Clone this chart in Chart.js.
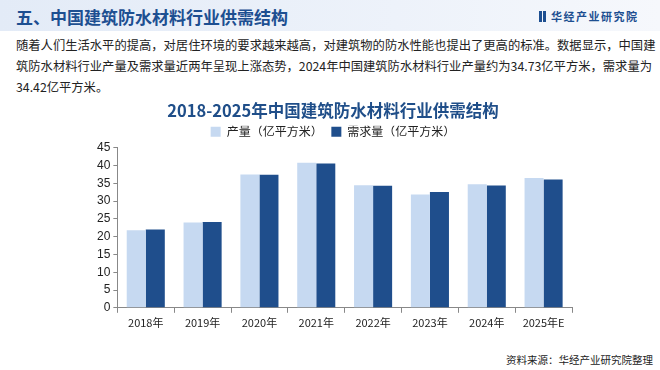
<!DOCTYPE html>
<html>
<head>
<meta charset="utf-8">
<script src="https://cdn.jsdelivr.net/npm/chart.js@4/dist/chart.umd.min.js"></script>
<style>
  body { margin: 0; width: 660px; height: 370px; background: #fff; position: relative; overflow: hidden; font-family: "Noto Sans CJK SC", sans-serif; }
  .head { position: absolute; left: 0; top: 0; width: 660px; height: 31px; background: linear-gradient(90deg, #e3ebf7 0%, #edf2fa 60%, #f6f8fc 100%); }
  .head h1 { position: absolute; left: 16px; top: 4px; margin: 0; font-size: 17px; font-weight: bold; color: #1d4f91; }
  .logo { position: absolute; left: 539px; top: 8px; font-size: 11px; color: #1d4f91; font-weight: bold; letter-spacing: 1.5px; }
  .logo b { display: inline-block; width: 3px; height: 11px; background: #1d4f91; margin-right: 1px; vertical-align: -1px; }
  .txt { position: absolute; left: 16px; top: 35px; width: 640px; font-size: 12.3px; line-height: 21px; color: #222; white-space: nowrap; }
  .src { position: absolute; left: 506px; top: 352px; font-size: 10.5px; color: #222; }
  #wrap { position: absolute; left: 94px; top: 95px; width: 496px; height: 237px; }
</style>
</head>
<body>
<div class="head"><h1>五、中国建筑防水材料行业供需结构</h1><div class="logo"><b></b><b></b> 华经产业研究院</div></div>
<div class="txt">随着人们生活水平的提高，对居住环境的要求越来越高，对建筑物的防水性能也提出了更高的标准。数据显示，中国建<br>筑防水材料行业产量及需求量近两年呈现上涨态势，2024年中国建筑防水材料行业产量约为34.73亿平方米，需求量为<br>34.42亿平方米。</div>
<div id="wrap"><canvas id="myChart"></canvas></div>
<div class="src">资料来源：华经产业研究院整理</div>
<script>
const labels = ["2018年", "2019年", "2020年", "2021年", "2022年", "2023年", "2024年", "2025年E"]
const output = [21.8, 24.0, 37.5, 40.8, 34.5, 31.9, 34.73, 36.5]
const demand = [22.0, 24.1, 37.4, 40.6, 34.3, 32.6, 34.42, 36.1]
const yTicks = [0, 5, 10, 15, 20, 25, 30, 35, 40, 45]

var chartField = document.querySelector("#myChart").getContext("2d")
var myChart = new Chart(chartField, {
  type: "bar",
  data: {
    labels: labels,
    datasets: [
      // trailing space widens the gap between the two legend items
      { label: "产量（亿平方米）\u3000 ", data: output, backgroundColor: "#c6d9f1" },
      { label: "需求量（亿平方米）", data: demand, backgroundColor: "#1f4e8c" }
    ]
  },
  options: {
    responsive: true,
    maintainAspectRatio: false,
    animation: false,
    categoryPercentage: 0.67,
    barPercentage: 1,
    layout: { padding: { left: 0, right: 18, top: 0, bottom: 0 } },
    plugins: {
      title: {
        display: true,
        text: "2018-2025年中国建筑防水材料行业供需结构",
        color: "#1f4e89",
        font: { size: 16.5, weight: "bold", family: "Noto Sans CJK SC" },
        padding: { top: 6, bottom: 5 }
      },
      legend: {
        labels: {
          boxWidth: 10, boxHeight: 10, padding: 0, color: "#222",
          font: { size: 12, family: "Noto Sans CJK SC" }
        }
      },
      tooltip: { enabled: false }
    },
    scales: {
      x: {
        grid: { display: true, drawOnChartArea: false, offset: true, color: "#888", tickLength: 5 },
        border: { color: "#888" },
        ticks: { color: "#222", font: { size: 11, family: "Noto Sans CJK SC" } }
      },
      y: {
        min: 0, max: 45,
        afterBuildTicks: (axis) => { axis.ticks = yTicks.map(v => ({ value: v })) },
        grid: { display: true, drawOnChartArea: false, color: "#888", tickLength: 4 },
        border: { color: "#888" },
        ticks: { autoSkip: false, color: "#222", font: { size: 12, family: "Liberation Sans" } }
      }
    }
  }
})
</script>
</body>
</html>
